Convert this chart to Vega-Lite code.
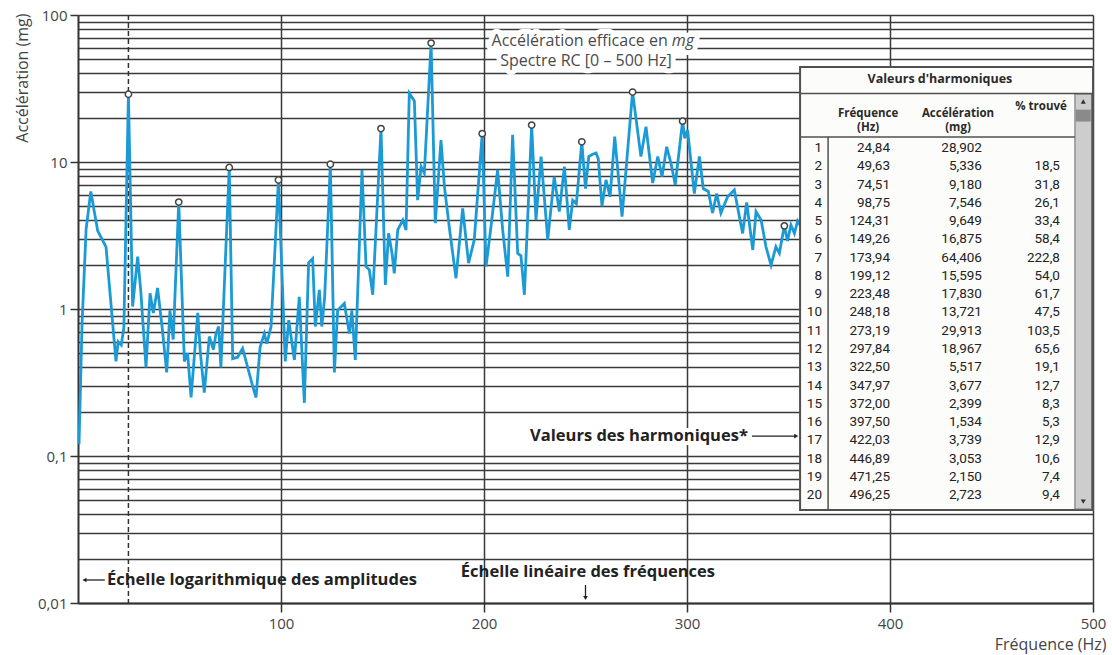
{
  "$schema": "https://vega.github.io/schema/vega-lite/v6.json",
  "width": 1015,
  "height": 588,
  "autosize": {"type": "none"},
  "padding": {"left": 78, "top": 15, "right": 19, "bottom": 52},
  "background": "white",
  "config": {
    "view": {"stroke": null},
    "font": "Open Sans",
    "locale": {"number": {"decimal": ",", "thousands": "\u00a0", "grouping": [3], "currency": ["", "\u00a0€"]}}
  },
  "datasets": {
    "spectre": [
      {"f": 0.5, "a": 0.12}, {"f": 2.0, "a": 0.8}, {"f": 4.0, "a": 3.5}, {"f": 6.3, "a": 6.3}, {"f": 9.7, "a": 3.4},
      {"f": 13.8, "a": 2.65}, {"f": 18.7, "a": 0.44}, {"f": 19.8, "a": 0.6}, {"f": 21.3, "a": 0.57}, {"f": 22.6, "a": 0.75},
      {"f": 24.84, "a": 28.9}, {"f": 26.9, "a": 1.04}, {"f": 29.4, "a": 2.27}, {"f": 31.0, "a": 1.28}, {"f": 33.5, "a": 0.4},
      {"f": 35.5, "a": 1.28}, {"f": 37.1, "a": 0.94}, {"f": 39.2, "a": 1.39}, {"f": 41.4, "a": 0.76}, {"f": 43.7, "a": 0.37},
      {"f": 45.3, "a": 0.98}, {"f": 46.9, "a": 0.62}, {"f": 49.63, "a": 5.34}, {"f": 52.4, "a": 0.44}, {"f": 54.0, "a": 0.5},
      {"f": 55.7, "a": 0.25}, {"f": 59.0, "a": 0.94}, {"f": 60.3, "a": 0.5}, {"f": 62.2, "a": 0.27}, {"f": 64.7, "a": 0.65},
      {"f": 66.7, "a": 0.53}, {"f": 68.0, "a": 0.68}, {"f": 69.3, "a": 0.76}, {"f": 70.4, "a": 0.4}, {"f": 74.51, "a": 9.18},
      {"f": 76.2, "a": 0.46}, {"f": 78.6, "a": 0.47}, {"f": 81.1, "a": 0.54}, {"f": 83.6, "a": 0.4}, {"f": 86.0, "a": 0.3},
      {"f": 87.7, "a": 0.25}, {"f": 89.7, "a": 0.55}, {"f": 91.8, "a": 0.68}, {"f": 93.0, "a": 0.58}, {"f": 95.1, "a": 0.76},
      {"f": 98.75, "a": 7.55}, {"f": 102.1, "a": 0.44}, {"f": 103.8, "a": 0.84}, {"f": 106.6, "a": 0.45}, {"f": 109.0, "a": 1.21},
      {"f": 111.5, "a": 0.23}, {"f": 113.6, "a": 2.06}, {"f": 115.6, "a": 2.2}, {"f": 116.9, "a": 0.76}, {"f": 118.9, "a": 1.35},
      {"f": 120.1, "a": 0.76}, {"f": 121.5, "a": 1.2}, {"f": 124.31, "a": 9.65}, {"f": 126.3, "a": 0.37}, {"f": 127.9, "a": 0.98},
      {"f": 131.2, "a": 1.09}, {"f": 133.7, "a": 0.68}, {"f": 134.9, "a": 0.98}, {"f": 136.6, "a": 0.45}, {"f": 139.9, "a": 8.83},
      {"f": 141.9, "a": 1.94}, {"f": 143.5, "a": 1.85}, {"f": 145.2, "a": 1.25}, {"f": 149.26, "a": 16.9}, {"f": 151.4, "a": 1.46},
      {"f": 153.0, "a": 3.27}, {"f": 154.7, "a": 2.39}, {"f": 155.8, "a": 1.75}, {"f": 157.5, "a": 3.45}, {"f": 160.0, "a": 4.03},
      {"f": 161.6, "a": 3.45}, {"f": 163.2, "a": 29.3}, {"f": 164.9, "a": 27}, {"f": 165.7, "a": 26}, {"f": 167.3, "a": 5.5},
      {"f": 169.0, "a": 9.3}, {"f": 170.6, "a": 8.4}, {"f": 173.94, "a": 64.4}, {"f": 176.0, "a": 3.83}, {"f": 178.8, "a": 14.1},
      {"f": 180.5, "a": 6.8}, {"f": 182.9, "a": 3.6}, {"f": 186.2, "a": 1.62}, {"f": 189.5, "a": 4.84}, {"f": 192.4, "a": 2.05},
      {"f": 195.2, "a": 2.95}, {"f": 199.12, "a": 15.6}, {"f": 201.0, "a": 1.94}, {"f": 203.4, "a": 3.6}, {"f": 206.7, "a": 8.83},
      {"f": 209.2, "a": 3.45}, {"f": 211.7, "a": 1.66}, {"f": 214.1, "a": 15.3}, {"f": 216.6, "a": 2.39}, {"f": 218.2, "a": 2.3},
      {"f": 219.9, "a": 1.25}, {"f": 223.48, "a": 17.8}, {"f": 225.6, "a": 4.03}, {"f": 228.1, "a": 10.9}, {"f": 231.4, "a": 2.95},
      {"f": 234.6, "a": 7.95}, {"f": 237.1, "a": 4.6}, {"f": 239.6, "a": 9.3}, {"f": 242.0, "a": 3.45}, {"f": 243.7, "a": 5.5},
      {"f": 245.5, "a": 5.2}, {"f": 248.18, "a": 13.7}, {"f": 250.0, "a": 6.6}, {"f": 251.6, "a": 10.9}, {"f": 253.5, "a": 11.3},
      {"f": 255.2, "a": 11.5}, {"f": 256.3, "a": 10.5}, {"f": 258.1, "a": 5.0}, {"f": 260.1, "a": 7.55}, {"f": 262.1, "a": 5.8},
      {"f": 264.4, "a": 14.9}, {"f": 268.0, "a": 4.25}, {"f": 273.19, "a": 29.9}, {"f": 277.3, "a": 10.9}, {"f": 279.8, "a": 17.4},
      {"f": 283.1, "a": 7.2}, {"f": 285.6, "a": 10.9}, {"f": 287.7, "a": 7.95}, {"f": 290.0, "a": 12.7}, {"f": 292.1, "a": 9.8},
      {"f": 294.2, "a": 7.0}, {"f": 297.84, "a": 19.0}, {"f": 298.9, "a": 14.5}, {"f": 300.3, "a": 16.5}, {"f": 302.2, "a": 9.3},
      {"f": 303.6, "a": 6.1}, {"f": 306.1, "a": 10.9}, {"f": 308.0, "a": 6.6}, {"f": 310.5, "a": 6.3}, {"f": 312.6, "a": 4.5},
      {"f": 314.6, "a": 6.1}, {"f": 316.7, "a": 4.5}, {"f": 320.0, "a": 5.8}, {"f": 323.3, "a": 6.45}, {"f": 325.8, "a": 4.25},
      {"f": 327.4, "a": 3.27}, {"f": 329.4, "a": 5.3}, {"f": 332.4, "a": 2.52}, {"f": 334.0, "a": 4.59}, {"f": 336.5, "a": 4.03},
      {"f": 338.9, "a": 2.65}, {"f": 341.4, "a": 1.99}, {"f": 343.8, "a": 2.65}, {"f": 345.5, "a": 2.4}, {"f": 347.97, "a": 3.68},
      {"f": 349.5, "a": 2.9}, {"f": 351.2, "a": 3.73}, {"f": 352.9, "a": 3.27}, {"f": 354.5, "a": 3.97}, {"f": 357.0, "a": 3.5}
    ],
    "harmoniques": [
      {"n": 1, "f": 24.84, "a": 28.902, "p": null},
      {"n": 2, "f": 49.63, "a": 5.336, "p": 18.5},
      {"n": 3, "f": 74.51, "a": 9.18, "p": 31.8},
      {"n": 4, "f": 98.75, "a": 7.546, "p": 26.1},
      {"n": 5, "f": 124.31, "a": 9.649, "p": 33.4},
      {"n": 6, "f": 149.26, "a": 16.875, "p": 58.4},
      {"n": 7, "f": 173.94, "a": 64.406, "p": 222.8},
      {"n": 8, "f": 199.12, "a": 15.595, "p": 54.0},
      {"n": 9, "f": 223.48, "a": 17.83, "p": 61.7},
      {"n": 10, "f": 248.18, "a": 13.721, "p": 47.5},
      {"n": 11, "f": 273.19, "a": 29.913, "p": 103.5},
      {"n": 12, "f": 297.84, "a": 18.967, "p": 65.6},
      {"n": 13, "f": 322.5, "a": 5.517, "p": 19.1},
      {"n": 14, "f": 347.97, "a": 3.677, "p": 12.7},
      {"n": 15, "f": 372.0, "a": 2.399, "p": 8.3},
      {"n": 16, "f": 397.5, "a": 1.534, "p": 5.3},
      {"n": 17, "f": 422.03, "a": 3.739, "p": 12.9},
      {"n": 18, "f": 446.89, "a": 3.053, "p": 10.6},
      {"n": 19, "f": 471.25, "a": 2.15, "p": 7.4},
      {"n": 20, "f": 496.25, "a": 2.723, "p": 9.4}
    ]
  },
  "layer": [
    {
      "layer": [
        {
          "data": {"name": "harmoniques"},
          "transform": [{"filter": "datum.n == 1"}],
          "mark": {"type": "rule", "color": "#333333", "strokeWidth": 1.5, "strokeDash": [5, 3]},
          "encoding": {"x": {"field": "f", "type": "quantitative"}}
        },
        {
          "data": {"name": "spectre"},
          "mark": {"type": "line", "color": "#1c9ad6", "strokeWidth": 2.8},
          "encoding": {
            "x": {
              "field": "f", "type": "quantitative",
              "scale": {"domain": [0, 500], "nice": false, "zero": false},
              "axis": {
                "values": [100, 200, 300, 400, 500], "format": "d",
                "labelFontSize": 15, "labelColor": "#444444", "labelPadding": 4, "labelFlush": false,
                "grid": true, "gridColor": "#3a3a3a", "gridWidth": 1.5,
                "tickSize": 9, "tickColor": "#333333", "tickWidth": 1.5,
                "domainColor": "#333333", "domainWidth": 2,
                "title": "Fréquence (Hz)", "titleFontWeight": "normal", "titleFontSize": 16, "titleColor": "#444444",
                "titleAnchor": null, "titleX": 1028, "titleY": 41, "titleAlign": "right", "titleBaseline": "middle"
              }
            },
            "y": {
              "field": "a", "type": "quantitative",
              "scale": {"type": "log", "domain": [0.01, 100], "nice": false},
              "axis": {
                "values": [0.01, 0.02, 0.03, 0.04, 0.05, 0.06, 0.07, 0.08, 0.09, 0.1, 0.2, 0.3, 0.4, 0.5, 0.6, 0.7, 0.8, 0.9, 1, 2, 3, 4, 5, 6, 7, 8, 9, 10, 20, 30, 40, 50, 60, 70, 80, 90, 100],
                "format": "~g",
                "labelExpr": "abs(log(datum.value)/LN10 - round(log(datum.value)/LN10)) < 0.0001 ? datum.label : ''",
                "labelOverlap": false, "labelBound": false,
                "labelFontSize": 15, "labelColor": "#444444", "labelPadding": 3,
                "grid": true, "gridColor": "#3a3a3a", "gridWidth": 1.5,
                "tickSize": 8, "tickColor": "#333333", "tickWidth": 1.5,
                "tickOpacity": {"condition": {"test": "abs(log(datum.value)/LN10 - round(log(datum.value)/LN10)) < 0.0001", "value": 1}, "value": 0},
                "domainColor": "#333333", "domainWidth": 2,
                "title": "Accélération (mg)", "titleFontWeight": "normal", "titleFontSize": 16, "titleColor": "#444444",
                "titleAnchor": null, "titleX": -56, "titleY": -2, "titleAlign": "right", "titleBaseline": "middle"
              }
            }
          }
        },
        {
          "data": {"name": "harmoniques"},
          "transform": [{"filter": "datum.n != 13"}],
          "mark": {"type": "point", "shape": "circle", "filled": true, "fill": "white", "stroke": "#444444", "strokeWidth": 1.5, "size": 40, "opacity": 1},
          "encoding": {
            "x": {"field": "f", "type": "quantitative"},
            "y": {"field": "a", "type": "quantitative"}
          }
        },
        {
          "data": {"values": [{}]},
          "mark": {"type": "text", "text": "Accélération efficace en", "align": "right", "baseline": "middle", "fontSize": 16, "color": "white", "stroke": "white", "strokeWidth": 10, "strokeJoin": "round", "dx": -2},
          "encoding": {"x": {"datum": 291.5}, "y": {"datum": 66.5}}
        },
        {
          "data": {"values": [{}]},
          "mark": {"type": "text", "text": "mg", "align": "left", "baseline": "middle", "fontSize": 16, "fontStyle": "italic", "color": "white", "stroke": "white", "strokeWidth": 10, "strokeJoin": "round", "dx": 2},
          "encoding": {"x": {"datum": 291.5}, "y": {"datum": 66.5}}
        },
        {
          "data": {"values": [{}]},
          "mark": {"type": "text", "text": "Spectre RC [0 – 500 Hz]", "align": "center", "baseline": "middle", "fontSize": 16, "color": "white", "stroke": "white", "strokeWidth": 10, "strokeJoin": "round"},
          "encoding": {"x": {"datum": 250.2}, "y": {"datum": 48.8}}
        },
        {
          "data": {"values": [{}]},
          "mark": {"type": "text", "text": "Accélération efficace en", "align": "right", "baseline": "middle", "fontSize": 16, "color": "#4a4a4a", "dx": -2},
          "encoding": {"x": {"datum": 291.5}, "y": {"datum": 66.5}}
        },
        {
          "data": {"values": [{}]},
          "mark": {"type": "text", "text": "mg", "align": "left", "baseline": "middle", "fontSize": 16, "fontStyle": "italic", "color": "#4a4a4a", "dx": 2},
          "encoding": {"x": {"datum": 291.5}, "y": {"datum": 66.5}}
        },
        {
          "data": {"values": [{}]},
          "mark": {"type": "text", "text": "Spectre RC [0 – 500 Hz]", "align": "center", "baseline": "middle", "fontSize": 16, "color": "#4a4a4a"},
          "encoding": {"x": {"datum": 250.2}, "y": {"datum": 48.8}}
        },
        {
          "data": {"values": [{}]},
          "mark": {"type": "text", "text": "Échelle logarithmique des amplitudes", "align": "left", "baseline": "middle", "fontSize": 16.5, "fontWeight": "bold", "color": "#222222"},
          "encoding": {"x": {"datum": 14.3}, "y": {"datum": 0.01434}}
        },
        {
          "data": {"values": [{}]},
          "mark": {"type": "rule", "color": "#222222", "strokeWidth": 1.3},
          "encoding": {"x": {"datum": 3.6}, "x2": {"datum": 13.2}, "y": {"datum": 0.01434}}
        },
        {
          "data": {"values": [{}]},
          "mark": {"type": "point", "shape": "triangle-left", "filled": true, "color": "#222222", "size": 22, "opacity": 1},
          "encoding": {"x": {"datum": 3.2}, "y": {"datum": 0.01434}}
        },
        {
          "data": {"values": [{}]},
          "mark": {"type": "text", "text": "Échelle linéaire des fréquences", "align": "center", "baseline": "middle", "fontSize": 16.5, "fontWeight": "bold", "color": "#222222"},
          "encoding": {"x": {"datum": 251.2}, "y": {"datum": 0.01625}}
        },
        {
          "data": {"values": [{}]},
          "mark": {"type": "rule", "color": "#222222", "strokeWidth": 1.3},
          "encoding": {"x": {"datum": 250}, "y": {"datum": 0.01326}, "y2": {"datum": 0.0111}}
        },
        {
          "data": {"values": [{}]},
          "mark": {"type": "point", "shape": "triangle-down", "filled": true, "color": "#222222", "size": 22, "opacity": 1},
          "encoding": {"x": {"datum": 250}, "y": {"datum": 0.0108}}
        },
        {
          "data": {"values": [{}]},
          "mark": {"type": "text", "text": "Valeurs des harmoniques*", "align": "right", "baseline": "middle", "fontSize": 16.5, "fontWeight": "bold", "color": "white", "stroke": "white", "strokeWidth": 8, "strokeJoin": "round"},
          "encoding": {"x": {"datum": 330}, "y": {"datum": 0.1367}}
        },
        {
          "data": {"values": [{}]},
          "mark": {"type": "text", "text": "Valeurs des harmoniques*", "align": "right", "baseline": "middle", "fontSize": 16.5, "fontWeight": "bold", "color": "#222222"},
          "encoding": {"x": {"datum": 330}, "y": {"datum": 0.1367}}
        },
        {
          "data": {"values": [{}]},
          "mark": {"type": "rule", "color": "#222222", "strokeWidth": 1.3},
          "encoding": {"x": {"datum": 332}, "x2": {"datum": 353.2}, "y": {"datum": 0.1367}}
        },
        {
          "data": {"values": [{}]},
          "mark": {"type": "point", "shape": "triangle-right", "filled": true, "color": "#222222", "size": 22, "opacity": 1},
          "encoding": {"x": {"datum": 353.8}, "y": {"datum": 0.1367}}
        }
      ]
    },
    {
      "layer": [
        {
          "data": {"values": [{}]},
          "mark": {"type": "rect", "fill": "#fcfcfa", "stroke": "#505050", "strokeWidth": 2},
          "encoding": {
            "x": {"datum": 355.7}, "x2": {"datum": 500},
            "y": {"datum": -3.43, "type": "quantitative", "scale": {"domain": [-6.28, 25.9], "reverse": true, "nice": false, "zero": false}, "axis": null},
            "y2": {"datum": 20.81}
          }
        },
        {
          "data": {"values": [{}]},
          "mark": {"type": "rect", "fill": "#cdcdcd", "stroke": "#6a6a6a", "strokeWidth": 1},
          "encoding": {
            "x": {"datum": 491.1}, "x2": {"datum": 499.3},
            "y": {"datum": -1.96, "type": "quantitative", "axis": null}, "y2": {"datum": 20.76}
          }
        },
        {
          "data": {"values": [{}]},
          "mark": {"type": "rect", "fill": "#8a8a8a"},
          "encoding": {
            "x": {"datum": 491.5}, "x2": {"datum": 498.9},
            "y": {"datum": -1.1, "type": "quantitative", "axis": null}, "y2": {"datum": -0.45}
          }
        },
        {
          "data": {"values": [{}]},
          "mark": {"type": "point", "shape": "triangle-up", "filled": true, "color": "#333333", "size": 26, "opacity": 1},
          "encoding": {"x": {"datum": 495.2}, "y": {"datum": -1.55, "type": "quantitative", "axis": null}}
        },
        {
          "data": {"values": [{}]},
          "mark": {"type": "point", "shape": "triangle-down", "filled": true, "color": "#333333", "size": 26, "opacity": 1},
          "encoding": {"x": {"datum": 495.2}, "y": {"datum": 20.35, "type": "quantitative", "axis": null}}
        },
        {
          "data": {"values": [{}]},
          "mark": {"type": "rule", "color": "#505050", "strokeWidth": 1.5},
          "encoding": {"x": {"datum": 355.7}, "x2": {"datum": 500}, "y": {"datum": -1.98, "type": "quantitative", "axis": null}}
        },
        {
          "data": {"values": [{}]},
          "mark": {"type": "rule", "color": "#505050", "strokeWidth": 1.5},
          "encoding": {"x": {"datum": 355.7}, "x2": {"datum": 491.1}, "y": {"datum": 0.4, "type": "quantitative", "axis": null}}
        },
        {
          "data": {"values": [{}]},
          "mark": {"type": "rule", "color": "#505050", "strokeWidth": 1.5},
          "encoding": {"x": {"datum": 369.5}, "y": {"datum": 0.4, "type": "quantitative", "axis": null}, "y2": {"datum": 20.81}}
        },
        {
          "data": {"values": [{}]},
          "mark": {"type": "text", "text": "Valeurs d'harmoniques", "align": "center", "baseline": "middle", "fontSize": 12.5, "fontWeight": "bold", "color": "#2a2a2a"},
          "encoding": {"x": {"datum": 424.6}, "y": {"datum": -2.78, "type": "quantitative", "axis": null}}
        },
        {
          "data": {"values": [{}]},
          "mark": {"type": "text", "text": ["Fréquence", "(Hz)"], "align": "center", "baseline": "middle", "lineHeight": 14, "fontSize": 11.5, "fontWeight": "bold", "color": "#2a2a2a"},
          "encoding": {"x": {"datum": 389.2}, "y": {"datum": -0.84, "type": "quantitative", "axis": null}}
        },
        {
          "data": {"values": [{}]},
          "mark": {"type": "text", "text": ["Accélération", "(mg)"], "align": "center", "baseline": "middle", "lineHeight": 14, "fontSize": 11.5, "fontWeight": "bold", "color": "#2a2a2a"},
          "encoding": {"x": {"datum": 433.5}, "y": {"datum": -0.84, "type": "quantitative", "axis": null}}
        },
        {
          "data": {"values": [{}]},
          "mark": {"type": "text", "text": "% trouvé", "align": "center", "baseline": "middle", "fontSize": 11.5, "fontWeight": "bold", "color": "#2a2a2a"},
          "encoding": {"x": {"datum": 474.4}, "y": {"datum": -1.22, "type": "quantitative", "axis": null}}
        },
        {
          "data": {"name": "harmoniques"},
          "mark": {"type": "text", "align": "right", "baseline": "middle", "font": "Roboto", "fontSize": 13.5, "color": "#222222"},
          "encoding": {
            "x": {"datum": 366.5},
            "y": {"field": "n", "type": "quantitative", "axis": null},
            "text": {"field": "n", "type": "quantitative", "format": "d"}
          }
        },
        {
          "data": {"name": "harmoniques"},
          "mark": {"type": "text", "align": "right", "baseline": "middle", "font": "Roboto", "fontSize": 13.5, "color": "#222222"},
          "encoding": {
            "x": {"datum": 400},
            "y": {"field": "n", "type": "quantitative", "axis": null},
            "text": {"field": "f", "type": "quantitative", "format": ".2f"}
          }
        },
        {
          "data": {"name": "harmoniques"},
          "mark": {"type": "text", "align": "right", "baseline": "middle", "font": "Roboto", "fontSize": 13.5, "color": "#222222"},
          "encoding": {
            "x": {"datum": 445.3},
            "y": {"field": "n", "type": "quantitative", "axis": null},
            "text": {"field": "a", "type": "quantitative", "format": ".3f"}
          }
        },
        {
          "data": {"name": "harmoniques"},
          "transform": [{"filter": "isValid(datum.p)"}],
          "mark": {"type": "text", "align": "right", "baseline": "middle", "font": "Roboto", "fontSize": 13.5, "color": "#222222"},
          "encoding": {
            "x": {"datum": 483.7},
            "y": {"field": "n", "type": "quantitative", "axis": null},
            "text": {"field": "p", "type": "quantitative", "format": ".1f"}
          }
        }
      ]
    }
  ],
  "resolve": {"scale": {"y": "independent"}}
}
